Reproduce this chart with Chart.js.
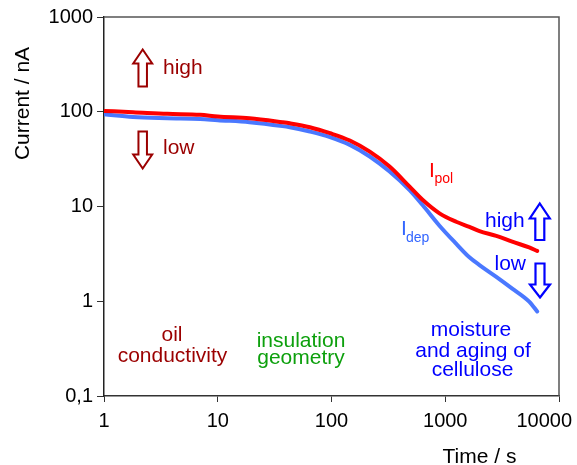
<!DOCTYPE html>
<html>
<head>
<meta charset="utf-8">
<script src="https://cdn.jsdelivr.net/npm/chart.js@4.4.1/dist/chart.umd.min.js"></script>
<style>
html,body{margin:0;padding:0;background:#fff;}
#wrap{width:577px;height:465px;position:relative;}
</style>
</head>
<body>
<div id="wrap"><canvas id="c" width="577" height="465"></canvas></div>
<script>
// ---- data ----
const times = [1, 1.8, 3.6, 7, 10, 19, 37, 43, 64.5, 97, 145, 217, 324, 486, 635, 890, 1246, 1630, 2000, 2810, 3880, 5470, 6430];
const iPol  = [102, 99, 95, 93, 89, 85.5, 77.5, 75.5, 68.7, 59.4, 49.7, 37.9, 26.4, 16.2, 11.7, 8.47, 6.9, 6.1, 5.5, 4.9, 4.25, 3.7, 3.4];
const iDep  = [94, 88, 85.5, 84, 81.5, 77.6, 70.5, 68.5, 61.8, 54.1, 44.7, 33.7, 23.4, 14.9, 10.3, 6.27, 4.05, 2.91, 2.41, 1.81, 1.36, 0.99, 0.78];
const xTicks = [1, 10, 100, 1000, 10000];
const yTicks = [0.1, 1, 10, 100, 1000];
const yTickLabels = ['0,1', '1', '10', '100', '1000'];
const xTickLabels = ['1', '10', '100', '1000', '10000'];

const FONT = "'Liberation Sans', Arial, sans-serif";
const DARKRED = '#9b0000';
const GREEN = '#0da00d';
const BLUE = '#0000ff';

function pts(xs, ys){ return xs.map((x,i)=>({x:x, y:ys[i]})); }

function blockArrow(ctx, cx, yTop, yBot, headW, shaftW, headLen, up, color, lw){
  ctx.save();
  ctx.beginPath();
  const hw = headW/2, sw = shaftW/2;
  if (up){
    ctx.moveTo(cx, yTop);
    ctx.lineTo(cx+hw, yTop+headLen);
    ctx.lineTo(cx+sw, yTop+headLen);
    ctx.lineTo(cx+sw, yBot);
    ctx.lineTo(cx-sw, yBot);
    ctx.lineTo(cx-sw, yTop+headLen);
    ctx.lineTo(cx-hw, yTop+headLen);
  } else {
    ctx.moveTo(cx, yBot);
    ctx.lineTo(cx+hw, yBot-headLen);
    ctx.lineTo(cx+sw, yBot-headLen);
    ctx.lineTo(cx+sw, yTop);
    ctx.lineTo(cx-sw, yTop);
    ctx.lineTo(cx-sw, yBot-headLen);
    ctx.lineTo(cx-hw, yBot-headLen);
  }
  ctx.closePath();
  ctx.fillStyle = '#fff';
  ctx.fill();
  ctx.lineWidth = lw;
  ctx.strokeStyle = color;
  ctx.lineJoin = 'miter';
  ctx.stroke();
  ctx.restore();
}

function txt(ctx, s, x, y, color, size, align){
  ctx.font = size + 'px ' + FONT;
  ctx.fillStyle = color;
  ctx.textAlign = align || 'center';
  ctx.textBaseline = 'alphabetic';
  ctx.fillText(s, x, y);
}

const overlay = {
  id: 'overlay',
  afterDraw(chart){
    const ctx = chart.ctx;
    const a = chart.chartArea;
    const xs = chart.scales.x;
    ctx.save();
    // top and right frame
    ctx.strokeStyle = '#555';
    ctx.lineWidth = 1.5;
    ctx.beginPath();
    ctx.moveTo(a.left, a.top);
    ctx.lineTo(a.right, a.top);
    ctx.lineTo(a.right, a.bottom);
    ctx.stroke();

    // x tick labels via scale
    ctx.font = '20px ' + FONT;
    ctx.fillStyle = '#000';
    ctx.textBaseline = 'alphabetic';
    xTicks.forEach((v,i)=>{
      const px = xs.getPixelForValue(v);
      const w = ctx.measureText(xTickLabels[i]).width;
      let left = px - w/2;
      if (left + w > 572) left = 572 - w;
      ctx.textAlign = 'left';
      ctx.fillText(xTickLabels[i], left, 426.5);
    });

    // axis titles
    txt(ctx, 'Time / s', 479.5, 462.5, '#000', 21, 'center');
    ctx.save();
    ctx.translate(28.5, 103.5);
    ctx.rotate(-Math.PI/2);
    txt(ctx, 'Current / nA', 0, 0, '#000', 21, 'center');
    ctx.restore();

    // left dark-red high/low
    blockArrow(ctx, 142.7, 49.5, 86.5, 19, 8.5, 14, true, DARKRED, 2);
    txt(ctx, 'high', 163, 73.5, DARKRED, 21, 'left');
    blockArrow(ctx, 142.7, 131.5, 168.5, 19, 8.5, 14, false, DARKRED, 2);
    txt(ctx, 'low', 163, 153.5, DARKRED, 21, 'left');

    // bottom labels
    txt(ctx, 'oil', 172, 340.5, DARKRED, 21);
    txt(ctx, 'conductivity', 172.5, 361.5, DARKRED, 21);
    txt(ctx, 'insulation', 301, 347, GREEN, 21);
    txt(ctx, 'geometry', 301, 363.5, GREEN, 21);
    txt(ctx, 'moisture', 471, 336, BLUE, 21);
    txt(ctx, 'and aging of', 473, 356.5, BLUE, 21);
    txt(ctx, 'cellulose', 472.5, 375.5, BLUE, 21);

    // curve labels
    txt(ctx, 'I', 429, 176.5, '#ff0000', 21, 'left');
    txt(ctx, 'pol', 434.5, 182.5, '#ff0000', 14, 'left');
    txt(ctx, 'I', 401, 234.5, '#3366ff', 21, 'left');
    txt(ctx, 'dep', 406, 241.5, '#3366ff', 14, 'left');

    // right blue high/low
    txt(ctx, 'high', 485, 226.5, BLUE, 21, 'left');
    blockArrow(ctx, 539.8, 203.5, 240, 20, 9, 15, true, BLUE, 2.2);
    txt(ctx, 'low', 494.5, 269.5, BLUE, 21, 'left');
    blockArrow(ctx, 540, 263.5, 297.5, 20, 9, 13, false, BLUE, 2.2);

    ctx.restore();
  }
};

new Chart(document.getElementById('c'), {
  type: 'scatter',
  data: {
    datasets: [
      { label: 'Ipol', data: pts(times, iPol), showLine: true, borderColor: '#ff0000', borderWidth: 4, pointRadius: 0, cubicInterpolationMode: 'monotone', fill: false, borderJoinStyle: 'round', borderCapStyle: 'round' },
      { label: 'Idep', data: pts(times, iDep), showLine: true, borderColor: '#4a78ff', borderWidth: 4, pointRadius: 0, cubicInterpolationMode: 'monotone', fill: false, borderJoinStyle: 'round', borderCapStyle: 'round' }
    ]
  },
  options: {
    responsive: false,
    animation: false,
    devicePixelRatio: 1,
    layout: { padding: { left: 0, right: 18, top: 17, bottom: 0 } },
    plugins: { legend: { display: false }, tooltip: { enabled: false } },
    scales: {
      x: {
        type: 'logarithmic', min: 1, max: 10000,
        afterBuildTicks: s => { s.ticks = xTicks.map(v => ({ value: v })); },
        afterFit: s => { s.height = 69; },
        ticks: { display: false, autoSkip: false, maxRotation: 0 },
        grid: { display: true, drawOnChartArea: false, drawTicks: true, tickLength: 6, color: '#333', lineWidth: 1 },
        border: { display: true, color: '#333', width: 1.5 }
      },
      y: {
        type: 'logarithmic', min: 0.1, max: 1000,
        afterBuildTicks: s => { s.ticks = yTicks.map(v => ({ value: v })); },
        afterFit: s => { s.width = 104; },
        ticks: {
          autoSkip: false, padding: 4, color: '#000',
          font: { size: 20, family: FONT },
          callback: (v) => { const i = yTicks.indexOf(v); return i >= 0 ? yTickLabels[i] : ''; }
        },
        grid: { display: true, drawOnChartArea: false, drawTicks: true, tickLength: 7, color: '#333', lineWidth: 1 },
        border: { display: true, color: '#222', width: 1.5 }
      }
    }
  },
  plugins: [overlay]
});
</script>
</body>
</html>
